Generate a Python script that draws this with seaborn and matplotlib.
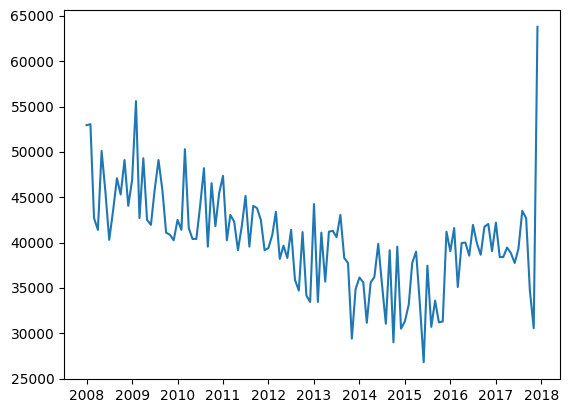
import pandas as pd
import numpy as np
import matplotlib
matplotlib.use('Agg')
import matplotlib.pyplot as plt
import seaborn as sns

# monthly values, Jan 2008 - Dec 2017
v2008 = [52950, 53050, 42700, 41400, 50100, 45500, 40300, 43500, 47100, 45300, 49100, 44050]
v2009 = [46900, 55600, 42700, 49300, 42500, 41950, 45800, 49100, 45800, 41100, 40850, 40250]
v2010 = [42500, 41400, 50300, 41600, 40400, 40400, 44000, 48200, 39550, 46550, 41800, 45450]
v2011 = [47350, 40250, 43050, 42300, 39150, 41800, 45150, 39550, 44050, 43800, 42500, 39150]
v2012 = [39400, 40850, 43400, 38200, 39650, 38300, 41400, 35900, 34700, 41150, 34150, 33450]
v2013 = [44250, 33450, 41100, 35700, 41200, 41300, 40600, 43050, 38300, 37750, 29400, 34850]
v2014 = [36150, 35600, 31150, 35600, 36200, 39850, 35400, 31050, 39150, 29000, 39550, 30500]
v2015 = [31300, 33150, 37750, 39000, 33300, 26800, 37450, 30700, 33600, 31200, 31300, 41200]
v2016 = [39050, 41600, 35100, 39950, 40000, 38550, 41950, 39950, 38650, 41750, 42050, 39050]
v2017 = [42200, 38400, 38400, 39450, 38850, 37750, 39300, 43500, 42700, 34700, 30550, 63800]

values = v2008 + v2009 + v2010 + v2011 + v2012 + v2013 + v2014 + v2015 + v2016 + v2017
dates = pd.date_range('2008-01-01', periods=len(values), freq='MS')

df = pd.DataFrame({'date': dates, 'value': values})

fig = plt.figure(figsize=(5.69, 4.13), dpi=100)
ax = fig.add_axes([0.1125, 0.0823, 0.8717, 0.8935])
sns.lineplot(x='date', y='value', data=df, ax=ax)
ax.set_xlabel('')
ax.set_ylabel('')

fig.savefig('out.png', dpi=100)
